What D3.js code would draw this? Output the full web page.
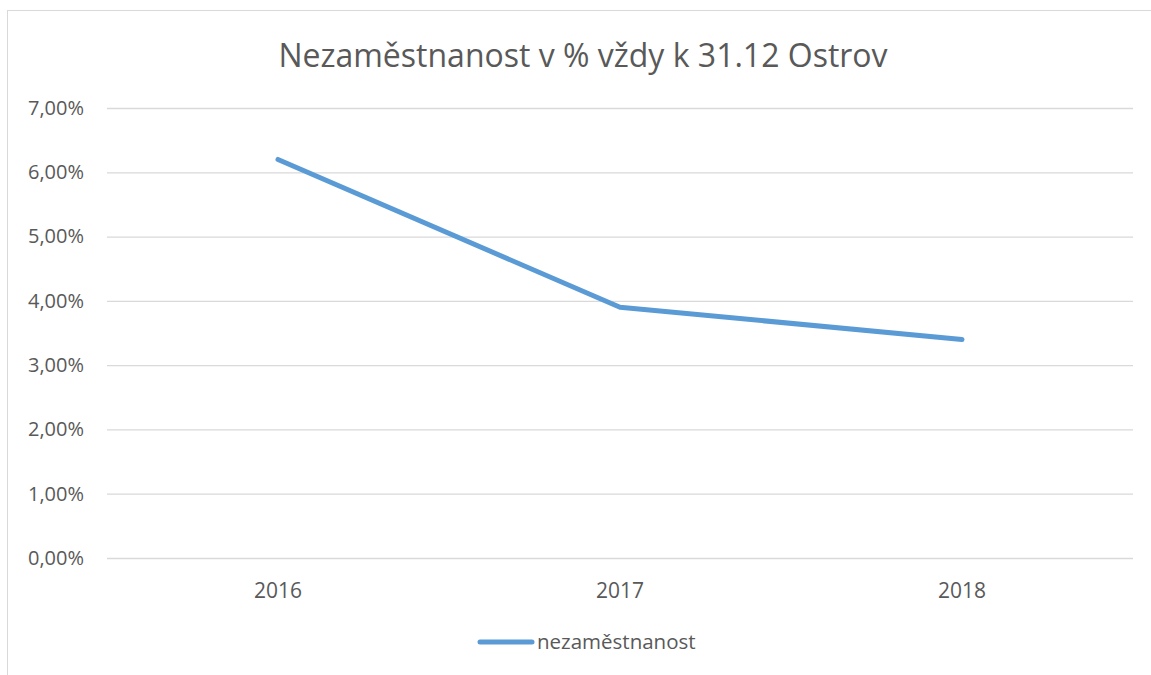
<!DOCTYPE html>
<html>
<head>
<meta charset="utf-8">
<script src="https://cdn.jsdelivr.net/npm/d3@7"></script>
<style>
  body { margin: 0; background: #fff; }
  svg { display: block; font-family: "Open Sans", "Noto Sans", sans-serif; }
</style>
</head>
<body>
<div id="chart"></div>
<script>
var years = ["2016", "2017", "2018"];
var values = [0.062, 0.039, 0.034];
var yTicks = [0, 0.01, 0.02, 0.03, 0.04, 0.05, 0.06, 0.07];
var seriesName = "nezaměstnanost";
var title = "Nezaměstnanost v % vždy k 31.12 Ostrov";

var W = 1151, H = 675;
var margin = {top: 108, right: 18, bottom: 117, left: 107};
var width = W - margin.left - margin.right,
    height = H - margin.top - margin.bottom;

var svg = d3.select("#chart").append("svg")
    .attr("width", W)
    .attr("height", H);

// chart border
svg.append("rect")
    .attr("x", 7.5).attr("y", 10.5)
    .attr("width", W).attr("height", H)
    .attr("fill", "none")
    .attr("stroke", "#d9d9d9");

svg.append("text")
    .attr("x", 583).attr("y", 67)
    .attr("text-anchor", "middle")
    .attr("fill", "#595959")
    .style("font-size", "32px")
    .text(title);

var g = svg.append("g")
    .attr("transform", "translate(" + margin.left + "," + margin.top + ")");

var x = d3.scaleBand().domain(years).range([0, width]);
var y = d3.scaleLinear().domain([0, 0.07]).range([height, 0]);

var fmt = function(d) { return d3.format(".2f")(d * 100).replace(".", ",") + "%"; };

var yAxis = g.append("g")
    .call(d3.axisLeft(y).tickValues(yTicks).tickSize(-width).tickFormat(fmt));
yAxis.select(".domain").remove();
yAxis.selectAll(".tick line").attr("stroke", "#d9d9d9").attr("stroke-width", 1.3);
yAxis.selectAll(".tick text")
    .attr("x", -23)
    .attr("fill", "#595959")
    .style("font-size", "20px")
    .style("font-family", "'Open Sans', sans-serif");

var xAxis = g.append("g")
    .attr("transform", "translate(0," + height + ")")
    .call(d3.axisBottom(x).tickSize(0));
xAxis.select(".domain").remove();
xAxis.selectAll(".tick text")
    .attr("dy", "0")
    .attr("y", 40)
    .attr("fill", "#595959")
    .style("font-size", "21px")
    .style("font-family", "'Open Sans', sans-serif");

var line = d3.line()
    .x(function(d, i) { return x(years[i]) + x.bandwidth() / 2; })
    .y(function(d) { return y(d); });

g.append("path")
    .datum(values)
    .attr("fill", "none")
    .attr("stroke", "#5b9bd5")
    .attr("stroke-width", 5)
    .attr("stroke-linecap", "round")
    .attr("stroke-linejoin", "round")
    .attr("d", line);

// legend
var lg = svg.append("g").attr("transform", "translate(480,642)");
lg.append("line")
    .attr("x1", 0).attr("x2", 52)
    .attr("stroke", "#5b9bd5")
    .attr("stroke-width", 5)
    .attr("stroke-linecap", "round");
lg.append("text")
    .attr("x", 57).attr("y", 7)
    .attr("fill", "#595959")
    .style("font-size", "20.5px")
    .text(seriesName);
</script>
</body>
</html>
